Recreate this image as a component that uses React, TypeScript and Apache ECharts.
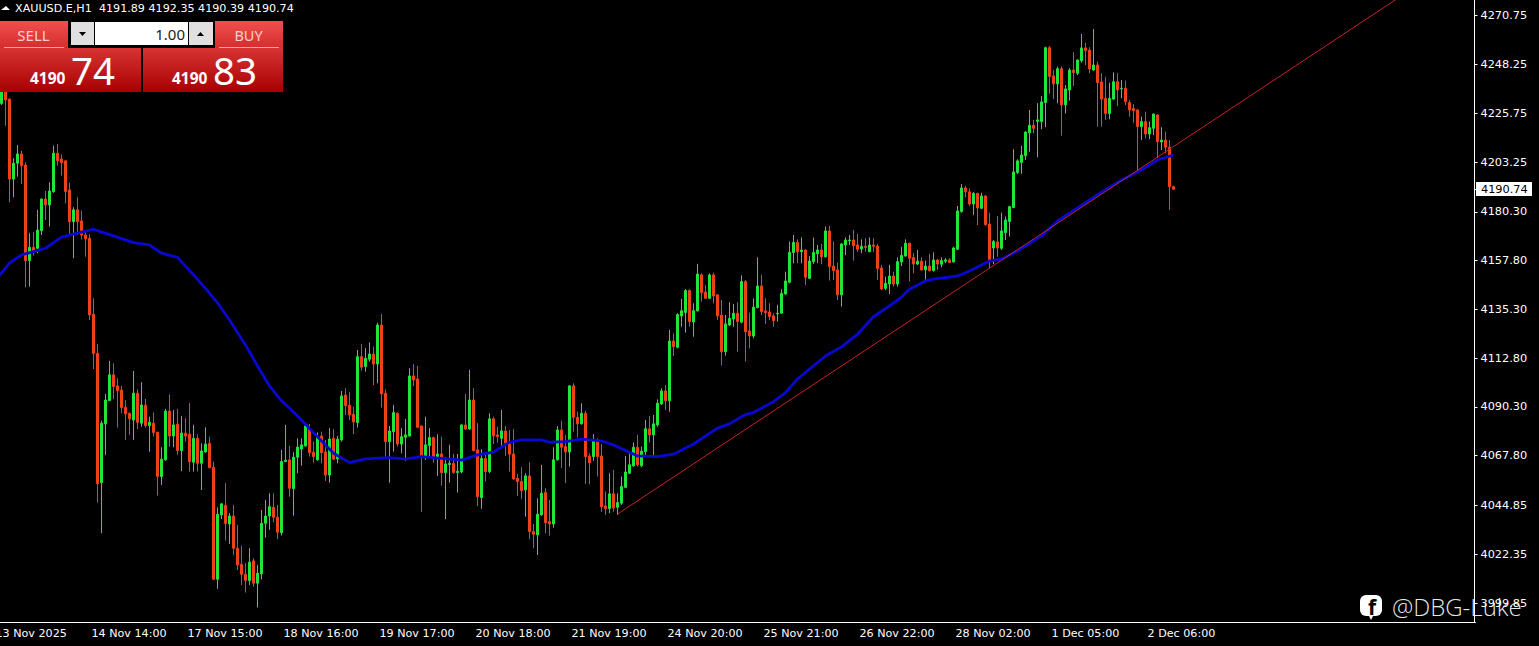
import React, { useEffect, useRef } from "react";
import * as echarts from "echarts";

type C = [number, number, number, number];

// Each candle: open, close, low, high
const candlesWeek1: C[] = [
  [4241,4230.3,4229,4242],
  [4230.3,4239.6,4229.6,4241.1],[4236.5,4231.9,4219.9,4238.8],[4232.3,4195.4,4184.7,4232.6],[4195.4,4202.7,4187,4205],
  [4202.7,4207,4196.5,4211.1],[4207,4201.6,4193.1,4208.5],[4201.9,4157.8,4145.5,4203.1],[4157.8,4163.9,4145.8,4170.4],
  [4163.9,4161.9,4160.1,4170.9],[4163.5,4171.9,4161.2,4181.2],[4171.6,4186.2,4169.6,4186.5],[4186.2,4183.5,4176.5,4189.9],
  [4183.5,4189.9,4173.5,4193.9],[4189.6,4207.3,4189.1,4210.8],[4207.3,4203.8,4201.6,4211.6],[4204.7,4203,4197,4206.8],
  [4203.8,4189.6,4184.2,4204],[4190.4,4175.8,4169.6,4193.8],[4175.8,4181.2,4158.9,4182.4],[4181.2,4175.8,4169.6,4187],
  [4176.1,4169.6,4167.6,4180.8],[4169.6,4167.8,4159.6,4171.2],[4168.1,4132.7,4130.4,4169.9],[4133,4115,4107.8,4140.4],
  [4115,4054.9,4046.2,4119.4],[4055.4,4082.8,4032,4084],[4082.5,4093.5,4068.2,4096.3],[4093.2,4105.1,4093,4111.5],
  [4105.1,4099.7,4094,4110.4],[4100,4097.8,4080.8,4103.5],[4098.1,4090,4087.4,4100],[4090.1,4087.1,4075.1,4093.5],
  [4087.4,4084.8,4077.4,4087.6],[4084.3,4096.6,4075.1,4106.9],[4096.6,4083.2,4080.1,4098.4],[4082.8,4091.2,4081.2,4101.7],
  [4091.1,4081.7,4080.8,4094],[4081.7,4083.2,4069.7,4085.8],[4082.8,4078.5,4076.6,4087.8],[4078.6,4058.2,4049.4,4078.9],
  [4058.2,4066.2,4054.3,4071.7],[4065.9,4088.4,4065.4,4089.4],[4088.4,4076.9,4072,4096.1],[4076.9,4082,4071.7,4088.9],
  [4082.3,4070.2,4068.2,4089.4],[4070.2,4078.2,4060.8,4086.1],[4078.2,4076.9,4074.3,4085.1],[4077.7,4065.1,4060.5,4092],
  [4064.8,4075.8,4060.5,4082],[4075.8,4064.3,4060.5,4077.7],[4064.3,4070,4052,4073.5],[4069.5,4073.2,4069.3,4080.9],
  [4073.5,4062.3,4062,4076.6],[4062.5,4010.8,4010.5,4065.1],[4010.8,4040.8,4006.4,4044],[4040.5,4045.6,4038.6,4045.9],
  [4044.9,4036.6,4028.7,4055.1],[4036.3,4040,4027.1,4041.3],[4040,4025.1,4022,4045.1],[4025.1,4017.4,4015.1,4035.9],
  [4017.7,4013.1,4008.2,4026.3],[4013.1,4010.2,4004.7,4018.2],[4010.2,4018.7,4008.2,4025.1],[4019.3,4009,4007.4,4020.5],
  [4009,4013.6,3997.8,4017.4],[4013.3,4036.6,4010.8,4042.8],[4036.6,4040,4030,4047.4],[4040,4044.3,4033.6,4050.5],
  [4044,4039.4,4037.1,4050.5],[4039.4,4032.5,4029.3,4045.1],[4032.3,4065.1,4031,4070.5],[4065.1,4065.7,4064.9,4082],
  [4065.9,4052.8,4048.9,4072.3],[4052.6,4067.1,4040.2,4069.4],
];

const candlesWeek2: C[] = [
  [4067.1,4071.8,4059.7,4075.8],[4070.9,4072.8,4063.2,4075.8],[4072.3,4081.5,4072,4082],[4080.5,4069.2,4067.4,4082.5],
  [4069.4,4067.4,4064.6,4074.3],[4065.9,4076.6,4065.6,4078.5],[4076.9,4069.2,4064.3,4078.9],[4069.5,4058.9,4056.2,4075.1],
  [4058.9,4075.5,4055.4,4080.5],[4075.8,4066.2,4065.9,4080],[4066.3,4075.4,4064.3,4076.9],[4075.1,4095.4,4074.3,4097.7],
  [4095.8,4090.9,4086.6,4098.9],[4091.1,4086.6,4084.3,4097.1],[4086.9,4083.4,4077.8,4090.4],[4083.1,4113.5,4080.8,4116.6],
  [4113.5,4108.6,4107.1,4119.4],[4108.9,4112.7,4106.6,4117.4],[4112.3,4114.7,4111.2,4120],[4114.7,4110.1,4100.4,4118.1],
  [4110.1,4128.1,4101.2,4129.2],[4128.1,4096.3,4090,4133.2],[4096.6,4074.3,4067.4,4098.4],[4074.3,4079.2,4055.4,4081.5],
  [4078.9,4087.7,4069.7,4091.2],[4087.4,4073.2,4072,4087.7],[4073.2,4076.6,4068.9,4080.5],[4076.3,4077.4,4065.4,4084.8],
  [4076.9,4104.6,4076.6,4108.1],[4104.6,4102.7,4100,4110],[4103.2,4080.9,4080.5,4109.2],[4081.5,4067.4,4041.9,4081.8],
  [4066.9,4072.8,4065.9,4085.8],[4072.5,4076.2,4066.9,4080.5],[4076.2,4067.1,4064.6,4076.6],[4067.1,4068.6,4058.5,4077.7],
  [4068.6,4060,4053.9,4076.6],[4060,4064,4038.6,4067.1],[4063.7,4064.3,4055.4,4072.8],[4064.3,4060,4059.4,4068.6],
  [4060,4060.6,4050.8,4068.6],[4060.3,4082,4059.7,4082.2],[4082,4080.1,4079.7,4096.3],[4080.1,4093.5,4079.7,4107.4],
  [4093.5,4070.2,4069.7,4098.9],[4070.5,4048.9,4044.6,4082.8],[4048.5,4066.5,4043.3,4070.8],[4066.5,4060.5,4055.9,4068.2],
  [4060.5,4084.8,4059.7,4087.4],[4084.8,4076.9,4073.2,4085.8],[4077.4,4076.6,4073.8,4081.2],[4075.8,4079.2,4071.2,4088.9],
  [4079.2,4073.5,4067.7,4081.5],[4074.3,4068.5,4060.5,4079.7],[4068.6,4057.1,4056.6,4080.1],[4057.4,4055.9,4049.2,4059.4],
  [4055.9,4051.7,4047.7,4062.5],[4052,4058.5,4039.7,4059.7],[4058.5,4032.8,4029.3,4064.8],[4032.8,4031.6,4025.1,4036.3],
  [4031.3,4040.8,4022,4048.2],[4040.5,4050.5,4040.2,4063.5],[4050.8,4036.9,4032,4052.8],[4037.4,4036.3,4030.9,4047.4],
  [4036.3,4065.9,4034.6,4071.7],[4065.9,4079.7,4065.6,4081.5],[4079.7,4071.7,4062,4084],[4072,4069.5,4055.1,4077.4],
  [4069.5,4100,4062.8,4100.4],[4100,4085.5,4078.9,4101.2],[4085.5,4082.5,4076.2,4088.1],[4082.5,4087.4,4082.2,4092],
  [4087.4,4067.4,4054.8,4088.6],[4067.7,4064.6,4054.6,4068.9],[4067.4,4075.1,4065.4,4077.7],[4075.1,4067.4,4058.2,4075.8],
];

const candlesWeek3: C[] = [
  [4067.7,4044.3,4042,4073.2],[4044.6,4043.4,4040.5,4051.3],[4043.4,4050.2,4041.3,4059.7],[4050.2,4043.7,4042,4061.2],
  [4044,4046.2,4040.5,4050.5],[4045.9,4053.6,4045.1,4058.2],[4053.2,4060.3,4052.8,4067.7],[4059.7,4063.6,4059.4,4068.9],
  [4063.1,4071.7,4062.8,4073.9],[4071.7,4063.6,4062.8,4077.4],[4063.2,4069.9,4062.5,4072],[4069.7,4080.2,4067.7,4084.3],
  [4080.2,4077.4,4073.9,4086.2],[4077.4,4082.5,4068.2,4086.6],[4082,4092,4081.2,4093.8],[4091.7,4097.7,4091.2,4098.9],
  [4097.7,4093.1,4088.9,4100.4],[4093.1,4120.7,4088.1,4125.8],[4120.7,4118.1,4113.8,4124.3],[4117.8,4132.9,4117.3,4133.5],
  [4132.3,4134.7,4127.3,4140.1],[4133.9,4144,4124.6,4144.6],[4144,4129.7,4127.3,4144.6],[4129.5,4134.7,4122.7,4138.1],
  [4134.6,4151.6,4134.4,4156.3],[4151.2,4143,4138.9,4151.9],[4143.3,4140.4,4140.1,4146.5],[4140.4,4151.2,4140.1,4151.9],
  [4151.2,4141.5,4138.1,4152.2],[4142,4132.3,4130.4,4142.3],[4132.7,4115.8,4109.4,4139.6],[4115.8,4128.6,4114,4132.7],
  [4128.1,4131.2,4127.6,4138.6],[4130.9,4133.5,4127.3,4137.8],[4133.5,4129.7,4115.8,4138.6],[4129.4,4148.1,4128.9,4151],
  [4148.1,4125,4111.2,4148.9],[4125.3,4123,4117.3,4133.8],[4123,4136.3,4122,4140.4],[4136.1,4146.1,4135.8,4159.3],
  [4146.1,4134.3,4132.7,4151.2],[4134.6,4133.8,4128.6,4140.4],[4134.1,4132,4130.4,4138.1],[4132.3,4130.1,4127.3,4133.5],
  [4133.2,4133.5,4129.7,4137.3],[4133.5,4142.7,4133.2,4144.6],[4142.4,4148.4,4142,4152.7],[4147.8,4161.6,4147.3,4166.6],
  [4161.5,4166.2,4156.6,4169.6],[4166.2,4161.9,4156.6,4167.6],[4161.9,4162.7,4156.6,4168.5],[4162.7,4150.1,4146.5,4163],
  [4149.6,4157.6,4149.2,4159.9],[4157.3,4161.5,4156.3,4168.4],[4160.9,4162.7,4156.6,4165],[4162.7,4159.6,4156.1,4165.5],
  [4159.5,4171.5,4159.3,4173.5],[4171.5,4155,4148.6,4173.8],[4155.3,4153.2,4148.9,4166.6],[4153.5,4142,4139.6,4156.9],
  [4142,4165.5,4136.6,4165.8],[4165,4167.3,4160.4,4168.5],[4167,4167.3,4165,4169.6],[4167.3,4164.7,4157.8,4171.9],
  [4165,4163,4161.9,4170.1],[4163.2,4164.4,4161.2,4167.6],[4164.4,4163.8,4161.9,4168.1],[4161.9,4165,4161.6,4168.5],
  [4165,4164.4,4161.9,4168.1],[4164.5,4154.1,4148.9,4165.5],[4154.4,4144.7,4144.2,4155.8],[4145,4147.3,4144.2,4150.4],
  [4147,4150.7,4142.4,4155.8],[4150.7,4147,4145.8,4152.7],[4147,4157.3,4145.8,4159.3],
];

const candlesWeek4: C[] = [
  [4157.2,4160.2,4155.3,4164.2],[4159.9,4165.8,4159.6,4167.6],[4165.8,4158.9,4148.1,4166.1],[4159.2,4156.2,4151.9,4161.2],
  [4156.2,4157.5,4155.8,4162.7],[4157.5,4153.5,4153.2,4159.3],[4153.5,4155.3,4148.9,4157.8],[4155.3,4153.2,4152.7,4160.9],
  [4153.2,4158.1,4152.7,4161.6],[4158.1,4156.2,4153.5,4158.4],[4156.1,4157.8,4154.7,4159.3],[4157.5,4158.1,4156.6,4158.9],
  [4158.1,4156.9,4156.6,4158.9],[4157.2,4163.6,4156.9,4164.2],[4163,4180.7,4162.7,4183],[4180.4,4191.3,4179.9,4193.1],
  [4191.3,4189.5,4187,4192.2],[4189.5,4183.9,4183,4191.1],[4183.9,4188.8,4178.9,4189.5],[4188.8,4182.1,4174.2,4189.1],
  [4181.9,4187.6,4181.6,4189.1],[4187.6,4174.4,4173.8,4188],[4174.7,4158.1,4154.3,4179.9],[4163.6,4166.6,4156.2,4167.3],
  [4166.4,4163.6,4159.6,4178.4],[4163.5,4171.5,4162.7,4179.9],[4170.7,4176.5,4167.3,4178.1],[4175.8,4182.7,4168.9,4183],
  [4182.3,4198.7,4181.9,4209.1],[4198.4,4203.8,4197.8,4204.5],[4203.1,4206.5,4197.8,4210.7],[4206.2,4217.1,4204.2,4217.4],
  [4216.8,4220.2,4208,4227.3],[4220.2,4218.8,4216.5,4222.7],[4222,4222.7,4205.4,4230.4],[4221.9,4231,4218.4,4233.7],
  [4230.7,4256,4219.3,4256.5],[4256,4242.7,4234.7,4256.8],[4243,4239.3,4232.3,4245.7],[4239.3,4246.3,4230.4,4247.3],
  [4246.3,4229.6,4215.4,4247.3],[4229.6,4237,4225.7,4238.8],[4236.5,4245.7,4231.6,4246.5],[4245.7,4244.5,4238.3,4253.9],
  [4244.2,4250.3,4243.4,4250.6],[4250,4255.9,4249.1,4262.3],[4255.9,4254.6,4248,4258.3],[4254.9,4246.2,4244.2,4256.2],
  [4245.7,4248,4245.4,4264.6],[4248,4239.9,4219.6,4249.6],[4240.2,4232.3,4219.6,4244.2],[4232.6,4225.7,4222.7,4242.6],
  [4225.7,4232.6,4223,4239.9],[4232.3,4240.3,4231.9,4244.6],[4240.3,4236.5,4229.1,4244.2],[4237,4237.3,4232.7,4241.1],
  [4237.3,4231.1,4229.6,4240.8],[4230.7,4227.3,4224.2,4231.9],[4227.9,4227,4221.4,4230],[4227.3,4219.6,4199.6,4227.6],
  [4219.6,4221.9,4213.4,4224.2],[4221.9,4216.2,4214.2,4226.5],[4216.2,4219.1,4213.8,4221.9],[4218.8,4225.4,4215.7,4225.7],
  [4225,4212.7,4205,4225.3],[4212.5,4213.4,4208.8,4219.3],[4213.4,4210.1,4207.3,4217.3],[4210.1,4191.9,4181.2,4213.4],
  [4191.89,4190.74,4190.39,4192.35],
];

// Moving average, read at chosen bars: [bar index, price]
const movingAverage: [number, number][] = [
  [0,4150.2],[1,4152],[3,4156.6],[6,4160.4],[12,4163.5],[16,4168.6],[21,4170.9],[24,4172.2],[29,4169.2],[34,4166.1],[38,4165],
  [41,4161.2],[45,4159.3],[49,4151.2],[52,4145],[55,4138.3],[58,4130.4],[62,4118.9],[65,4109.2],[68,4100],[71,4093.1],
  [73,4089.8],[76,4084.3],[80,4076.5],[84,4068.9],[88,4064.6],[92,4066.3],[98,4066.9],[102,4066.2],[106,4067.4],[111,4066.6],
  [116,4065.8],[120,4068.2],[124,4069.5],[128,4074],[131,4075.1],[136,4075.1],[138,4074],[142,4074.3],[146,4075.5],[151,4074.6],
  [154,4072.8],[160,4067.7],[165,4067.4],[169,4068.5],[174,4073.2],[180,4080.5],[183,4082.5],[187,4086.8],[189,4087.7],[194,4092.7],
  [197,4096.9],[200,4103.2],[204,4109.3],[207,4113.8],[211,4118],[215,4123.8],[219,4131.9],[223,4136.9],[226,4141],[228,4144.6],
  [232,4148.4],[234,4149.3],[240,4150.7],[243,4153],[248,4157.6],[251,4158.5],[255,4162.2],[261,4169.2],[265,4176.1],[270,4182.1],
  [276,4189.4],[281,4195],[286,4199.6],[290,4204.2],[294,4206.5],
];

const trendLine: [number, number][] = [[155,4040.9],[350,4278.7]];

const timeLabels = [
  "13 Nov 2025","14 Nov 14:00","17 Nov 15:00","18 Nov 16:00","19 Nov 17:00","20 Nov 18:00","21 Nov 19:00",
  "24 Nov 20:00","25 Nov 21:00","26 Nov 22:00","28 Nov 02:00","1 Dec 05:00","2 Dec 06:00",
];
const priceTicks = [4270.75,4248.25,4225.75,4203.25,4180.3,4157.8,4135.3,4112.8,4090.3,4067.8,4044.85,4022.35,3999.85];
const lastPrice = 4190.74;
const barsPerLabel = 24;
const totalBars = 370;
const headerText = "XAUUSD.E,H1  4191.89 4192.35 4190.39 4190.74";

const FONT = "'DejaVu Sans', sans-serif";
const SANS = "'Noto Sans', sans-serif";

function redGradient(a: string, b: string) {
  return new echarts.graphic.LinearGradient(0, 0, 0, 1, [
    { offset: 0, color: a },
    { offset: 1, color: b },
  ]);
}

function panelGraphics(): any[] {
  const Z = 100;
  const rect = (x: number, y: number, width: number, height: number, fill: any, extra: any = {}) => ({
    type: "rect", z: Z, shape: { x, y, width, height }, style: { fill, ...extra },
  });
  const text = (x: number, y: number, t: string, fontSize: number, fill: string, opts: any = {}) => ({
    type: "text", z: Z + 1, x, y,
    style: { text: t, fontSize, fill, fontFamily: SANS, textVerticalAlign: "middle", textAlign: "left", ...opts },
  });
  const tri = (pts: number[][], fill: string) => ({
    type: "polygon", z: Z + 1, shape: { points: pts }, style: { fill },
  });
  return [
    // header
    tri([[1, 10], [6, 6], [10, 10]], "#fff"),
    text(15, 8.5, headerText, 11.15, "#fff", { fontFamily: FONT }),
    // SELL / BUY tops
    rect(0, 21, 68, 27, redGradient("#f05050", "#d62c2c")),
    rect(215, 21, 68, 27, redGradient("#f05050", "#d62c2c")),
    rect(4, 47, 60, 1, "#f2a8a8"),
    rect(219, 47, 60, 1, "#f2a8a8"),
    text(33.5, 34.5, "SELL", 15, "#f8d0d0", { textAlign: "center" }),
    text(248.5, 34.5, "BUY", 14.5, "#f8d0d0", { textAlign: "center" }),
    // price panels
    rect(0, 48, 141, 44, redGradient("#d83434", "#a80000")),
    rect(143, 48, 140, 44, redGradient("#d83434", "#a80000")),
    text(30, 78, "4190", 15.5, "#fff", { fontWeight: "bold" }),
    text(71, 70, "74", 38.5, "#fff"),
    text(172, 78, "4190", 15.5, "#fff", { fontWeight: "bold" }),
    text(213, 70, "83", 38.5, "#fff"),
    // lot control
    rect(69, 20, 145, 28, "#000"),
    rect(71, 22, 23, 23, "#e0e0e0"),
    rect(95, 22, 93, 23, "#fff"),
    rect(189, 22, 24, 23, "#e0e0e0"),
    tri([[79, 32], [86, 32], [82.5, 36]], "#000"),
    tri([[197, 36], [204, 36], [200.5, 32]], "#000"),
    text(185, 33.5, "1.00", 15, "#222", { textAlign: "right" }),
    // last price label
    rect(1476, 182, 56, 14, "#fff"),
    text(1481, 189.5, lastPrice.toFixed(2), 11.3, "#000", { fontFamily: FONT }),
    // watermark
    {
      type: "rect", z: Z, shape: { x: 1360, y: 595, width: 22, height: 21, r: 6 }, style: { fill: "#fff" },
    },
    tri([[1368, 614], [1374, 614], [1371, 620]], "#fff"),
    text(1372, 606.5, "f", 21, "#000", { textAlign: "center", fontWeight: "bold" }),
    text(1392, 606, "@DBG-Luke", 24, "rgba(255,255,255,0.92)", { fontFamily: "'Open Sans', sans-serif", fontWeight: 300 }),
  ];
}

export default function App() {
  const ref = useRef<HTMLDivElement>(null);

  useEffect(() => {
    if (!ref.current) return;
    const chart = echarts.init(ref.current, undefined, { renderer: "svg" });
    const categories = Array.from({ length: totalBars }, (_, k) =>
      k % barsPerLabel === 0 ? timeLabels[k / barsPerLabel] ?? "" : ""
    );
    const lastLabelBar = (timeLabels.length - 1) * barsPerLabel;
    const isTick = (k: number) => k % barsPerLabel === 0 && k <= lastLabelBar;
    const candles = [...candlesWeek1, ...candlesWeek2, ...candlesWeek3, ...candlesWeek4];

    chart.setOption({
      animation: false,
      backgroundColor: "#000",
      grid: { left: -4.5, top: 0, width: totalBars * 4, height: 622, containLabel: false, outerBoundsMode: "none" },
      xAxis: {
        type: "category",
        data: categories,
        boundaryGap: true,
        axisLine: { lineStyle: { color: "#fff", width: 1 } },
        axisTick: { alignWithLabel: true, length: 3, interval: (k: number) => isTick(k), lineStyle: { color: "#fff" } },
        axisLabel: {
          interval: (k: number) => isTick(k),
          color: "#fff", fontFamily: FONT, fontSize: 11.15, align: "left", margin: 6, padding: [0, 0, 0, -2],
          showMinLabel: true, hideOverlap: false,
        },
        splitLine: { show: false },
      },
      yAxis: {
        type: "value",
        position: "right",
        offset: -1,
        min: 3991.1,
        max: 4278.0,
        axisLine: { show: true, lineStyle: { color: "#fff", width: 1 } },
        axisTick: { show: true, length: 3, lineStyle: { color: "#fff" }, customValues: [...priceTicks, lastPrice] },
        axisLabel: {
          color: "#fff", fontFamily: FONT, fontSize: 11.3, margin: 6, customValues: priceTicks,
          formatter: (v: number) => v.toFixed(2), showMinLabel: true, showMaxLabel: true,
        },
        splitLine: { show: false },
      },
      series: [
        {
          type: "candlestick",
          data: candles,
          barWidth: 2,
          itemStyle: {
            color: "#1ee63c", color0: "#f0401a",
            borderColor: "#1ee63c", borderColor0: "#f0401a",
            borderColorDoji: "#1ee63c", borderWidth: 1,
          },
          clip: true,
          silent: true,
        },
        {
          type: "line",
          data: movingAverage,
          showSymbol: false,
          symbol: "none",
          lineStyle: { color: "#0808d0", width: 2.8 },
          silent: true,
          z: 5,
        },
        {
          type: "line",
          data: trendLine,
          showSymbol: false,
          symbol: "none",
          lineStyle: { color: "#c42424", width: 1 },
          silent: true,
          clip: true,
          z: 6,
        },
      ],
      graphic: { elements: panelGraphics() },
    });
    return () => chart.dispose();
  }, []);

  return <div ref={ref} style={{ position: "absolute", left: 0, top: 0, width: 1539, height: 646, background: "#000" }} />;
}
